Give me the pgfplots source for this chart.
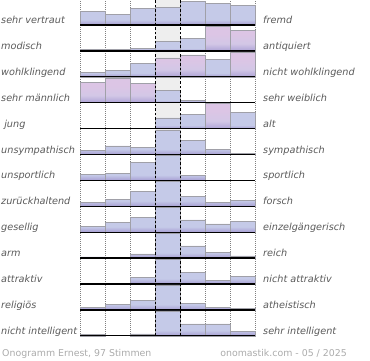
\documentclass[border=0pt]{standalone}
\usepackage{fontspec}
\setmainfont{DejaVu Sans}
\usepackage{pgfplots}
\pgfplotsset{compat=1.18}
\definecolor{lab}{HTML}{5A5A5A}
\definecolor{foot}{HTML}{ABABAB}
\definecolor{bluetop}{HTML}{C5CAE8}
\definecolor{bluebot}{HTML}{A69DD2}
\definecolor{pinktop}{HTML}{DCC5E5}
\definecolor{pinkbot}{HTML}{ADA3D6}
\definecolor{band}{HTML}{EEEEEE}
\definecolor{edge}{HTML}{A0A0A8}
\pgfdeclareverticalshading{barblue}{100bp}{color(0bp)=(bluebot); color(25bp)=(bluebot); color(36bp)=(bluetop); color(100bp)=(bluetop)}
\pgfdeclareverticalshading{barpink}{100bp}{color(0bp)=(pinkbot); color(25bp)=(pinkbot); color(40bp)=(bluetop!40!pinktop); color(60bp)=(pinktop); color(100bp)=(pinktop)}
\pgfplotsset{
  rowaxis/.style={scale only axis, width=175pt, height=25.9pt, xmin=0, xmax=7, ymin=0, ymax=25.9,
    axis lines=none, clip=false, anchor=south west},
  fullaxis/.style={scale only axis, width=175pt, height=335.8pt, xmin=0, xmax=7, ymin=0, ymax=1,
    axis lines=none, clip=false, anchor=south west, at={(80pt,-335.8pt)}},
  bluebar/.style={ybar, bar width=1, bar shift=0, draw=edge, line width=0.5pt, shade, shading=barblue},
  pinkbar/.style={ybar, bar width=1, bar shift=0, draw=edge, line width=0.5pt, shade, shading=barpink},
}
\newcommand{\lbl}[1]{{\fontsize{9.7}{11}\selectfont\itshape\color{lab}#1}}
\newcommand{\row}[5]{%
  \begin{axis}[rowaxis, at={(80pt,-#1pt)}]
    \addplot[bluebar] coordinates {#4};
    \if\relax\detokenize{#5}\relax\else
    \addplot[pinkbar] coordinates {#5};
    \fi
    \addplot[black, line width=1.3pt] coordinates {(0,0) (7,0)};
  \end{axis}
  \node[anchor=base west, inner sep=0pt] at (1pt,-#1pt+1.5pt) {\lbl{#2}};
  \node[anchor=base west, inner sep=0pt] at (263pt,-#1pt+1.5pt) {\lbl{#3}};
}
\begin{document}
\begin{tikzpicture}
\useasboundingbox (0,0) rectangle (370pt,-360pt);
\begin{axis}[fullaxis]
  \addplot[fill=band, draw=none] coordinates {(3,0) (4,0) (4,1) (3,1)} -- cycle;
  \addplot[gray, line width=0.5pt, dash pattern=on 1pt off 1pt, unbounded coords=jump]
    coordinates {(0,0) (0,1) (nan,nan) (1,0) (1,1) (nan,nan) (2,0) (2,1) (nan,nan) (5,0) (5,1) (nan,nan) (6,0) (6,1) (nan,nan) (7,0) (7,1)};
\end{axis}
\row{25}{sehr vertraut}{fremd}{(0.5,13.3)(1.5,10.7)(2.5,16.3)(3.5,18)(4.5,24)(5.5,21.7)(6.5,19.7)}{}
\row{50.9}{modisch}{antiquiert}{(0.5,1.7)(1.5,1.7)(2.5,2.7)(3.5,9.7)(4.5,12.3)}{(5.5,24.3)(6.5,20.3)}
\row{76.8}{wohlklingend}{nicht wohlklingend}{(0.5,4.3)(1.5,6.3)(2.5,13.3)(5.5,17.7)}{(3.5,19)(4.5,22)(6.5,25)}
\row{102.7}{sehr männlich}{sehr weiblich}{(3.5,12)(4.5,2.7)}{(0.5,20.7)(1.5,24.7)(2.5,19.3)}
\row{128.6}{\ jung}{alt}{(3.5,10.7)(4.5,14.3)(6.5,16)}{(5.5,25)}
\row{154.5}{unsympathisch}{sympathisch}{(0.5,4.3)(1.5,8.7)(2.5,7.3)(3.5,24.3)(4.5,14)(5.5,5.3)(6.5,1.3)}{}
\row{180.4}{unsportlich}{sportlich}{(0.5,6)(1.5,6.7)(2.5,17.7)(3.5,25)(4.5,5.3)}{}
\row{206.3}{zurückhaltend}{forsch}{(0.5,3.7)(1.5,7)(2.5,14.7)(3.5,25)(4.5,9.7)(5.5,4)(6.5,5.7)}{}
\row{232.2}{gesellig}{einzelgängerisch}{(0.5,5.7)(1.5,9.7)(2.5,14.7)(3.5,25)(4.5,12.3)(5.5,8.3)(6.5,10.7)}{}
\row{258.1}{arm}{reich}{(0.5,1.3)(2.5,4.3)(3.5,25)(4.5,12.3)(5.5,5.7)(6.5,2.3)}{}
\row{284}{attraktiv}{nicht attraktiv}{(1.5,1)(2.5,6.3)(3.5,25)(4.5,11.3)(5.5,3.3)(6.5,7.3)}{}
\row{309.9}{religiös}{atheistisch}{(0.5,2.3)(1.5,5.3)(2.5,9.3)(3.5,25)(4.5,6.7)(5.5,2.7)(6.5,1.7)}{}
\row{335.8}{nicht intelligent}{sehr intelligent}{(0.5,1.3)(2.5,2)(3.5,25)(4.5,12)(5.5,12)(6.5,4.3)}{}
\begin{axis}[fullaxis]
  \addplot[black, line width=0.6pt, dash pattern=on 2.5pt off 2pt, unbounded coords=jump]
    coordinates {(3,0) (3,1) (nan,nan) (4,0) (4,1)};
\end{axis}
\node[anchor=base west, inner sep=0pt] at (2pt,-356pt) {\fontsize{9.4}{11}\selectfont\color{foot}Onogramm Ernest, 97 Stimmen};
\node[anchor=base east, inner sep=0pt] at (347pt,-356pt) {\fontsize{9.4}{11}\selectfont\color{foot}onomastik.com - 05 / 2025};
\end{tikzpicture}
\end{document}
